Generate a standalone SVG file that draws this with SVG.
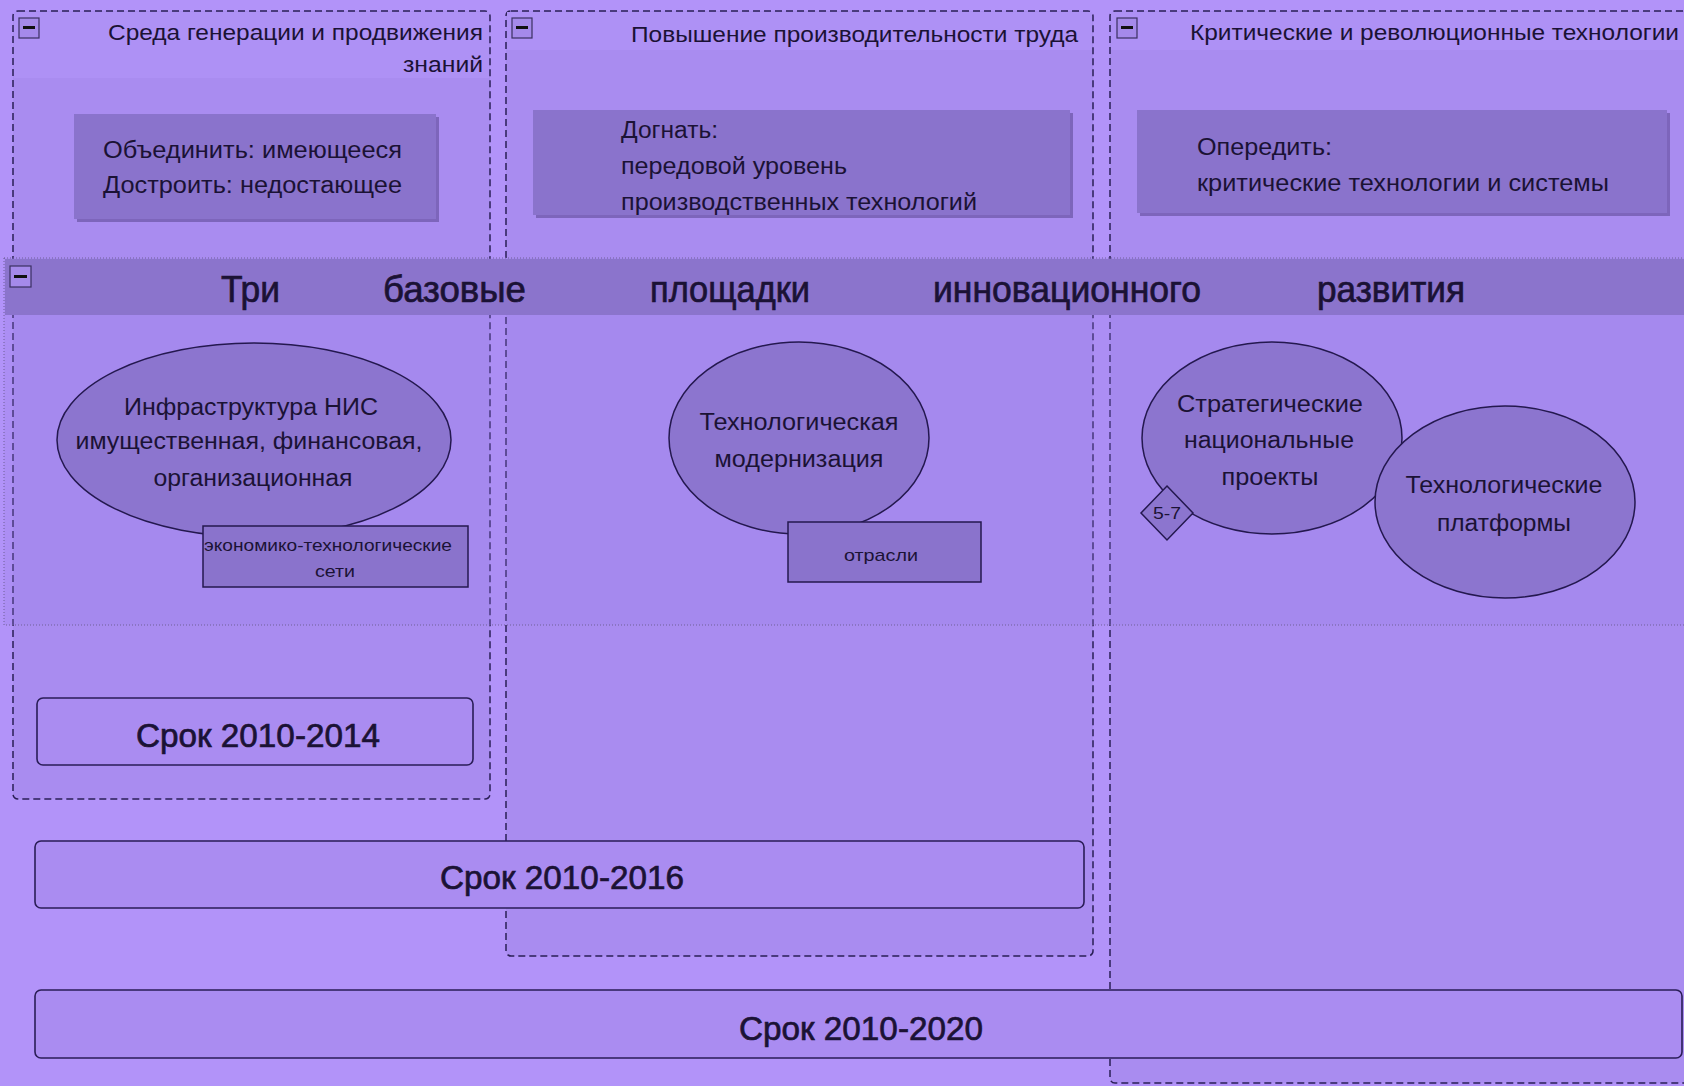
<svg xmlns="http://www.w3.org/2000/svg" width="1684" height="1086" viewBox="0 0 1684 1086">
<defs>
<style>
.t{font-family:"Liberation Sans",Arial,sans-serif;fill:#1b1235}
.lt{font-size:22px}
.bx{font-size:23px}
.sm{font-size:17px}
.big{font-size:37px;stroke:#1b1235;stroke-width:0.7}
.tl{font-size:34px;stroke:#1b1235;stroke-width:0.7}
.lane{fill:#a98cf0;stroke:#2a1f55;stroke-width:1.5;stroke-dasharray:7 4}
.lhead{fill:#ae91f5}
.box{fill:#8a73cc}
.shadow{fill:#5a468f;opacity:0.55}
.ell{fill:#8c75cf;stroke:#24184f;stroke-width:1.5}
.srect{fill:#8a73cc;stroke:#24184f;stroke-width:1.5}
.term{fill:#aa8cf1;stroke:#2a1d57;stroke-width:1.6}
.icon{fill:#a58aea;stroke:#3a3060;stroke-width:1.2}
.minus{fill:#111}
</style>
</defs>
<rect x="0" y="0" width="1684" height="1086" fill="#b293f9"/>

<g id="lane1">
<rect class="lane" x="13" y="11" width="477" height="788" rx="5"/>
<rect class="lhead" x="14" y="12" width="475" height="66"/>
<rect class="icon" x="19" y="18" width="20" height="20"/>
<rect class="minus" x="23" y="26" width="12" height="3"/>
<text class="t lt" x="483" y="40" text-anchor="end" textLength="375" lengthAdjust="spacingAndGlyphs">Среда генерации и продвижения</text>
<text class="t lt" x="483" y="72" text-anchor="end" textLength="80" lengthAdjust="spacingAndGlyphs">знаний</text>
</g>
<g id="lane2">
<rect class="lane" x="506" y="11" width="587" height="945" rx="5"/>
<rect class="lhead" x="507" y="12" width="585" height="38"/>
<rect class="icon" x="512" y="18" width="20" height="20"/>
<rect class="minus" x="516" y="26" width="12" height="3"/>
<text class="t lt" x="1078" y="42" text-anchor="end" textLength="447" lengthAdjust="spacingAndGlyphs">Повышение производительности труда</text>
</g>
<g id="lane3">
<rect class="lane" x="1110" y="11" width="600" height="1072" rx="5"/>
<rect class="lhead" x="1111" y="12" width="580" height="38"/>
<rect class="icon" x="1117" y="18" width="20" height="20"/>
<rect class="minus" x="1121" y="26" width="12" height="3"/>
<text class="t lt" x="1679" y="40" text-anchor="end" textLength="489" lengthAdjust="spacingAndGlyphs">Критические и революционные технологии</text>
</g>

<g id="box1">
<rect class="shadow" x="77" y="117" width="362" height="105"/>
<rect class="box" x="74" y="114" width="362" height="105"/>
<text class="t bx" x="103" y="158" textLength="299" lengthAdjust="spacingAndGlyphs">Объединить: имеющееся</text>
<text class="t bx" x="103" y="193" textLength="299" lengthAdjust="spacingAndGlyphs">Достроить: недостающее</text>
</g>
<g id="box2">
<rect class="shadow" x="536" y="113" width="537" height="105"/>
<rect class="box" x="533" y="110" width="537" height="105"/>
<text class="t bx" x="621" y="138" textLength="97" lengthAdjust="spacingAndGlyphs">Догнать:</text>
<text class="t bx" x="621" y="174" textLength="226" lengthAdjust="spacingAndGlyphs">передовой уровень</text>
<text class="t bx" x="621" y="210" textLength="356" lengthAdjust="spacingAndGlyphs">производственных технологий</text>
</g>
<g id="box3">
<rect class="shadow" x="1140" y="113" width="530" height="103"/>
<rect class="box" x="1137" y="110" width="530" height="103"/>
<text class="t bx" x="1197" y="155" textLength="135" lengthAdjust="spacingAndGlyphs">Опередить:</text>
<text class="t bx" x="1197" y="191" textLength="412" lengthAdjust="spacingAndGlyphs">критические технологии и системы</text>
</g>

<g id="band">
<rect x="4" y="258" width="1690" height="367" fill="#9c80e6" fill-opacity="0.25" stroke="#6e5f98" stroke-width="1" stroke-dasharray="1 2"/>
<rect x="5" y="259" width="1690" height="56" fill="#8b74cc"/>
<rect class="icon" x="10" y="266" width="21" height="21"/>
<rect class="minus" x="14" y="275" width="13" height="3"/>
<text class="t big" x="221" y="302" textLength="59" lengthAdjust="spacingAndGlyphs">Три</text>
<text class="t big" x="383" y="302" textLength="143" lengthAdjust="spacingAndGlyphs">базовые</text>
<text class="t big" x="650" y="302" textLength="160" lengthAdjust="spacingAndGlyphs">площадки</text>
<text class="t big" x="933" y="302" textLength="268" lengthAdjust="spacingAndGlyphs">инновационного</text>
<text class="t big" x="1317" y="302" textLength="148" lengthAdjust="spacingAndGlyphs">развития</text>
</g>

<g id="ell1">
<ellipse class="ell" cx="254" cy="440" rx="197" ry="97"/>
<text class="t bx" x="251" y="415" text-anchor="middle" textLength="254" lengthAdjust="spacingAndGlyphs">Инфраструктура НИС</text>
<text class="t bx" x="249" y="449" text-anchor="middle" textLength="347" lengthAdjust="spacingAndGlyphs">имущественная, финансовая,</text>
<text class="t bx" x="253" y="486" text-anchor="middle" textLength="199" lengthAdjust="spacingAndGlyphs">организационная</text>
</g>
<g id="rect1">
<rect class="srect" x="203" y="526" width="265" height="61"/>
<text class="t sm" x="204" y="551" textLength="248" lengthAdjust="spacingAndGlyphs">экономико-технологические</text>
<text class="t sm" x="335" y="577" text-anchor="middle" textLength="40" lengthAdjust="spacingAndGlyphs">сети</text>
</g>
<g id="ell2">
<ellipse class="ell" cx="799" cy="438" rx="130" ry="96"/>
<text class="t bx" x="799" y="430" text-anchor="middle" textLength="199" lengthAdjust="spacingAndGlyphs">Технологическая</text>
<text class="t bx" x="799" y="467" text-anchor="middle" textLength="169" lengthAdjust="spacingAndGlyphs">модернизация</text>
</g>
<g id="rect2">
<rect class="srect" x="788" y="522" width="193" height="60"/>
<text class="t sm" x="881" y="561" text-anchor="middle" textLength="74" lengthAdjust="spacingAndGlyphs">отрасли</text>
</g>
<g id="ell3">
<ellipse class="ell" cx="1272" cy="438" rx="130" ry="96"/>
<text class="t bx" x="1270" y="412" text-anchor="middle" textLength="186" lengthAdjust="spacingAndGlyphs">Стратегические</text>
<text class="t bx" x="1269" y="448" text-anchor="middle" textLength="170" lengthAdjust="spacingAndGlyphs">национальные</text>
<text class="t bx" x="1270" y="485" text-anchor="middle" textLength="97" lengthAdjust="spacingAndGlyphs">проекты</text>
</g>
<g id="ell4">
<ellipse class="ell" cx="1505" cy="502" rx="130" ry="96"/>
<text class="t bx" x="1504" y="493" text-anchor="middle" textLength="197" lengthAdjust="spacingAndGlyphs">Технологические</text>
<text class="t bx" x="1504" y="531" text-anchor="middle" textLength="134" lengthAdjust="spacingAndGlyphs">платформы</text>
</g>
<g id="diamond">
<polygon points="1167,486 1193,513 1167,540 1141,513" class="ell"/>
<text class="t" x="1167" y="519" text-anchor="middle" font-size="16" textLength="28" lengthAdjust="spacingAndGlyphs">5-7</text>
</g>

<g id="term1">
<rect class="term" x="37" y="698" width="436" height="67" rx="6"/>
<text class="t tl" x="258" y="747" text-anchor="middle" textLength="244" lengthAdjust="spacingAndGlyphs">Срок 2010-2014</text>
</g>
<g id="term2">
<rect class="term" x="35" y="841" width="1049" height="67" rx="6"/>
<text class="t tl" x="562" y="889" text-anchor="middle" textLength="244" lengthAdjust="spacingAndGlyphs">Срок 2010-2016</text>
</g>
<g id="term3">
<rect class="term" x="35" y="990" width="1647" height="68" rx="6"/>
<text class="t tl" x="861" y="1040" text-anchor="middle" textLength="244" lengthAdjust="spacingAndGlyphs">Срок 2010-2020</text>
</g>
<g id="connectors"/>
</svg>
